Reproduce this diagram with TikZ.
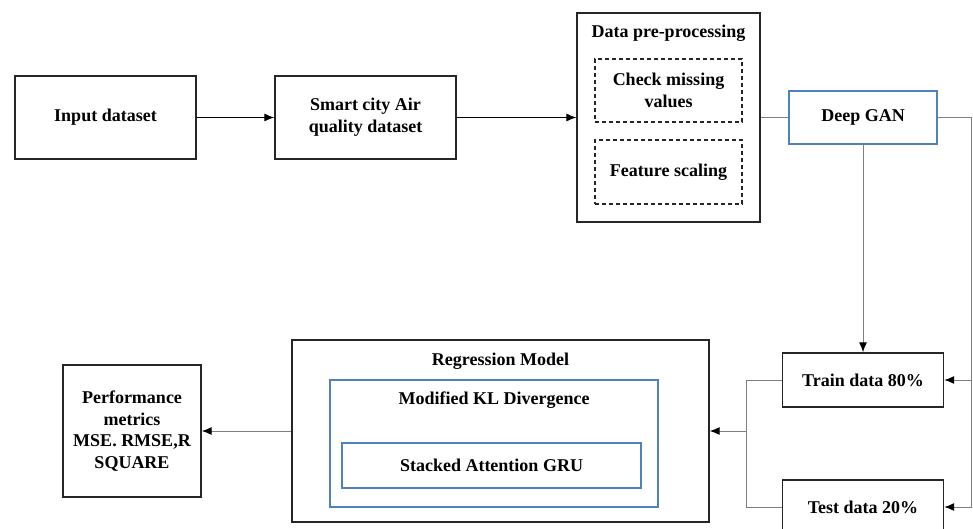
\documentclass[tikz,border=0pt]{standalone}
\usepackage{fontspec}
\setmainfont{Liberation Serif}
\usetikzlibrary{arrows.meta}
\definecolor{boxblue}{HTML}{4F81BD}
\definecolor{lngray}{HTML}{7F7F7F}
\begin{document}
\begin{tikzpicture}[x=1pt,y=-1pt,
  txt/.style={font=\fontsize{18}{21.7}\selectfont\bfseries, align=center},
  box/.style={txt, draw=black!85, line width=1.4pt, inner sep=0pt},
  bluebox/.style={txt, draw=boxblue, line width=2.8pt, inner sep=0pt},
  dbox/.style={txt, draw=black!85, line width=1.2pt, dash pattern=on 4pt off 3pt, inner sep=0pt},
  conn/.style={line width=0.9pt, draw=black},
  gconn/.style={line width=1pt, draw=lngray},
  arr/.style={-{Latex[length=10pt,width=8pt,black]}}
]
\useasboundingbox (0,0) rectangle (973,529);
\fill[white] (0,0) rectangle (973,529);

\node[box, minimum width=181pt, minimum height=83pt] (inp) at (105.5,117.5) {Input dataset};
\node[box, minimum width=181pt, minimum height=83pt] (smart) at (365.5,117.5) {Smart city Air\\quality dataset};
\node[box, minimum width=183pt, minimum height=209pt] (pre) at (668.5,117.5) {};
\node[txt] (pret) at (668.5,33) {Data pre-processing};
\node[dbox, minimum width=147pt, minimum height=63pt] (chk) at (668.5,90.5) {Check missing\\values};
\node[dbox, minimum width=147pt, minimum height=64pt] (fs) at (668.5,172) {Feature scaling};
\node[bluebox, minimum width=148pt, minimum height=53pt] (gan) at (863,117.5) {Deep GAN};

\node[box, minimum width=161pt, minimum height=54pt] (train) at (863,380) {Train data 80\%};
\node[box, minimum width=161pt, minimum height=54pt] (test) at (863,507) {Test data 20\%};

\node[box, minimum width=417pt, minimum height=182pt] (reg) at (500.5,431) {};
\node[txt] (regt) at (500.5,361) {Regression Model};
\node[bluebox, minimum width=328pt, minimum height=127pt] (kl) at (494,443.5) {};
\node[txt] (klt) at (494,400) {Modified KL Divergence};
\node[bluebox, minimum width=299pt, minimum height=45pt] (gru) at (491.5,465.5) {Stacked Attention GRU};

\node[box, minimum width=138pt, minimum height=132pt] (perf) at (132,431) {Performance\\metrics\\MSE. RMSE,R\\SQUARE};

\coordinate (rt) at (971,117.5);
\coordinate (lt) at (746,380);
\coordinate (lm) at (746,431);

\draw[conn, arr] (inp.east) -- (smart.west);
\draw[conn, arr] (smart.east) -- (pre.west);
\draw[gconn] (pre.east) -- (gan.west);
\draw[gconn, arr] (gan.south) -- (train.north);
\draw[gconn] (gan.east) -- (rt);
\draw[gconn, arr] (rt) |- (train.east);
\draw[gconn, arr] (rt) |- (test.east);
\draw[gconn] (train.west) -- (lt) |- (test.west);
\draw[gconn, arr] (lm) -- (reg.east);
\draw[gconn, arr] (reg.west) -- (perf.east);
\end{tikzpicture}
\end{document}
